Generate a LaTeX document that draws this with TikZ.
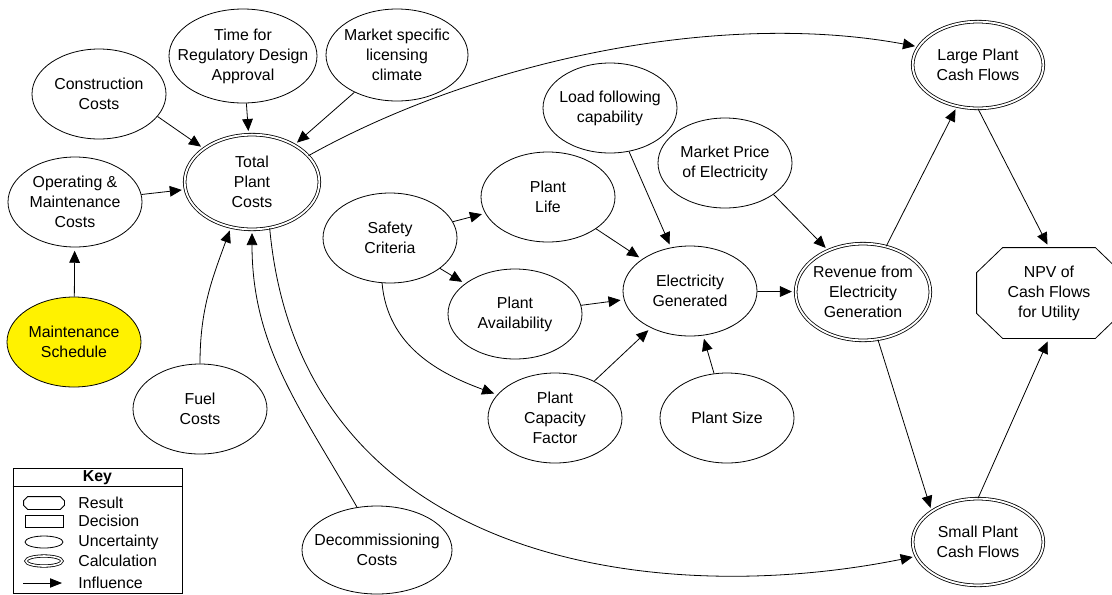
\documentclass[tikz,border=0pt]{standalone}
\usepackage{fontspec}
\setmainfont{Liberation Sans}
\usetikzlibrary{shapes.geometric,arrows.meta}

\tikzset{arrow/.style={-{Triangle[length=9pt,width=8pt]}, shorten >=2.5pt},
  chance/.style={draw, ellipse, minimum width=100.5pt, minimum height=67.5pt, inner xsep=-15pt, inner ysep=0pt, align=center},
  calculation/.style={chance, double, double distance=1.4pt, minimum width=98pt, minimum height=65pt}}

\begin{document}
\begin{tikzpicture}[x=0.75pt, y=-0.75pt, line width=0.6pt, font=\fontsize{11.9}{15}\selectfont]
            \useasboundingbox (0,0) rectangle (1112,594);
            \node[chance] (Cons) at (99,94) {Construction\\Costs};
            \node[chance, minimum width=111pt, minimum height=70.5pt] (Time) at (243,56) {Time for\\Regulatory Design\\Approval};
            \node[chance, minimum width=106.5pt, minimum height=69pt] (Mkt) at (397,55) {Market specific\\licensing\\climate};
            \node[calculation, minimum width=101pt, minimum height=71pt] (TPC) at (252,182) {Total\\Plant\\Costs};
            \node[chance] (OM) at (75,202) {Operating \&\\Maintenance\\Costs};
            \node[chance, fill=yellow] (MS) at (74,342) {Maintenance\\Schedule};
            \node[chance] (Fuel) at (200,409) {Fuel\\Costs};
            \node[chance, minimum width=112.5pt, minimum height=66pt] (Dec) at (377,550) {Decommissioning\\Costs};
            \node[chance] (SC) at (390,238) {Safety\\Criteria};
            \node[chance] (PL) at (548,197) {Plant\\Life};
            \node[chance] (PA) at (515,314) {Plant\\Availability};
            \node[chance] (PCF) at (555,418) {Plant\\Capacity\\Factor};
            \node[chance] (LF) at (610,108) {Load following\\capability};
            \node[chance] (MP) at (725,163) {Market Price\\of Electricity};
            \node[chance] (EG) at (690,291) {Electricity\\Generated};
            \node[chance] (PS) at (727,418) {Plant Size};
            \node[calculation, minimum width=101pt, minimum height=72.5pt] (Rev) at (863,292) {Revenue from\\Electricity\\Generation};
            \node[calculation] (LPCF) at (978,65) {Large Plant\\Cash Flows};
            \node[calculation] (SPCF) at (978,542) {Small Plant\\Cash Flows};
            \node[minimum width=108pt, minimum height=67.5pt, inner sep=0pt, align=center] (NPV) at (1049,293) {NPV of\\Cash Flows\\for Utility};
            \draw ([xshift=19.5pt]NPV.north west) -- ([xshift=-19.5pt]NPV.north east) -- ([yshift=-18.75pt]NPV.north east) -- ([yshift=18.75pt]NPV.south east) -- ([xshift=-19.5pt]NPV.south east) -- ([xshift=19.5pt]NPV.south west) -- ([yshift=18.75pt]NPV.south west) -- ([yshift=-18.75pt]NPV.north west) -- cycle;
            \draw[arrow] (Cons.-21) -- (TPC);
            \draw[arrow] (Time) -- (TPC);
            \draw[arrow] (Mkt) -- (TPC);
            \draw[arrow] (OM) -- (TPC);
            \draw[arrow] (MS) -- (OM);
            \draw[arrow] (Fuel.north) to[out=90, in=-110] (TPC.245);
            \draw[arrow] (Dec.115) to[out=120, in=-90] (TPC.south);
            \draw[arrow] (TPC.25) .. controls (480,60) and (720,10) .. (LPCF.163);
            \draw[arrow] (TPC.291) .. controls (300,560) and (650,610) .. (SPCF.193);
            \draw[arrow] (SC) -- (PL);
            \draw[arrow] (SC) -- (PA);
            \draw[arrow] (SC.260) to[out=-85, in=160] (PCF.158);
            \draw[arrow] (PL) -- (EG);
            \draw[arrow] (PA) -- (EG);
            \draw[arrow] (PCF) -- (EG);
            \draw[arrow] (LF) -- (EG);
            \draw[arrow] (PS) -- (EG);
            \draw[arrow] (EG) -- (Rev);
            \draw[arrow] (MP.-33) -- (Rev.130);
            \draw[arrow] (Rev) -- (LPCF);
            \draw[arrow] (Rev) -- (SPCF.north west);
            \draw[arrow] (LPCF.south) -- (NPV.north);
            \draw[arrow] (SPCF.north) -- (NPV.south);
            \node[draw, minimum width=126.75pt, minimum height=93.75pt, inner sep=0pt] (Key) at (97.5,530.5) {};
            \node (KeyTitle) at (97.5,478) {\textbf{Key}};
            \draw[line width=1pt] ([yshift=-14.25pt]Key.north west) -- ([yshift=-14.25pt]Key.north east);
            \node[minimum width=30pt, minimum height=9pt, inner sep=0pt] (KRes) at (44,503) {};
            \draw ([xshift=3pt]KRes.north west) -- ([xshift=-3pt]KRes.north east) -- ([yshift=-3pt]KRes.north east) -- ([yshift=3pt]KRes.south east) -- ([xshift=-3pt]KRes.south east) -- ([xshift=3pt]KRes.south west) -- ([yshift=3pt]KRes.south west) -- ([yshift=-3pt]KRes.north west) -- cycle;
            \node[draw, minimum width=28.5pt, minimum height=9pt, inner sep=0pt] (KDec) at (44,521) {};
            \node[draw, ellipse, minimum width=28.5pt, minimum height=9pt, inner sep=0pt] (KUnc) at (44,542) {};
            \node[draw, ellipse, double, double distance=1.2pt, minimum width=27pt, minimum height=7.5pt, inner sep=0pt] (KCal) at (44,561) {};
            \coordinate (KInA) at (23,583);
            \coordinate (KInB) at (62,583);
            \draw[-{Triangle[length=9pt,width=7pt]}] (KInA) -- (KInB);
            \node[anchor=west, inner sep=0pt] (TRes) at (78,503) {Result};
            \node[anchor=west, inner sep=0pt] (TDec) at (78,521) {Decision};
            \node[anchor=west, inner sep=0pt] (TUnc) at (78,542) {Uncertainty};
            \node[anchor=west, inner sep=0pt] (TCal) at (78,561) {Calculation};
            \node[anchor=west, inner sep=0pt] (TInf) at (78,583) {Influence};
        \end{tikzpicture}
\end{document}
